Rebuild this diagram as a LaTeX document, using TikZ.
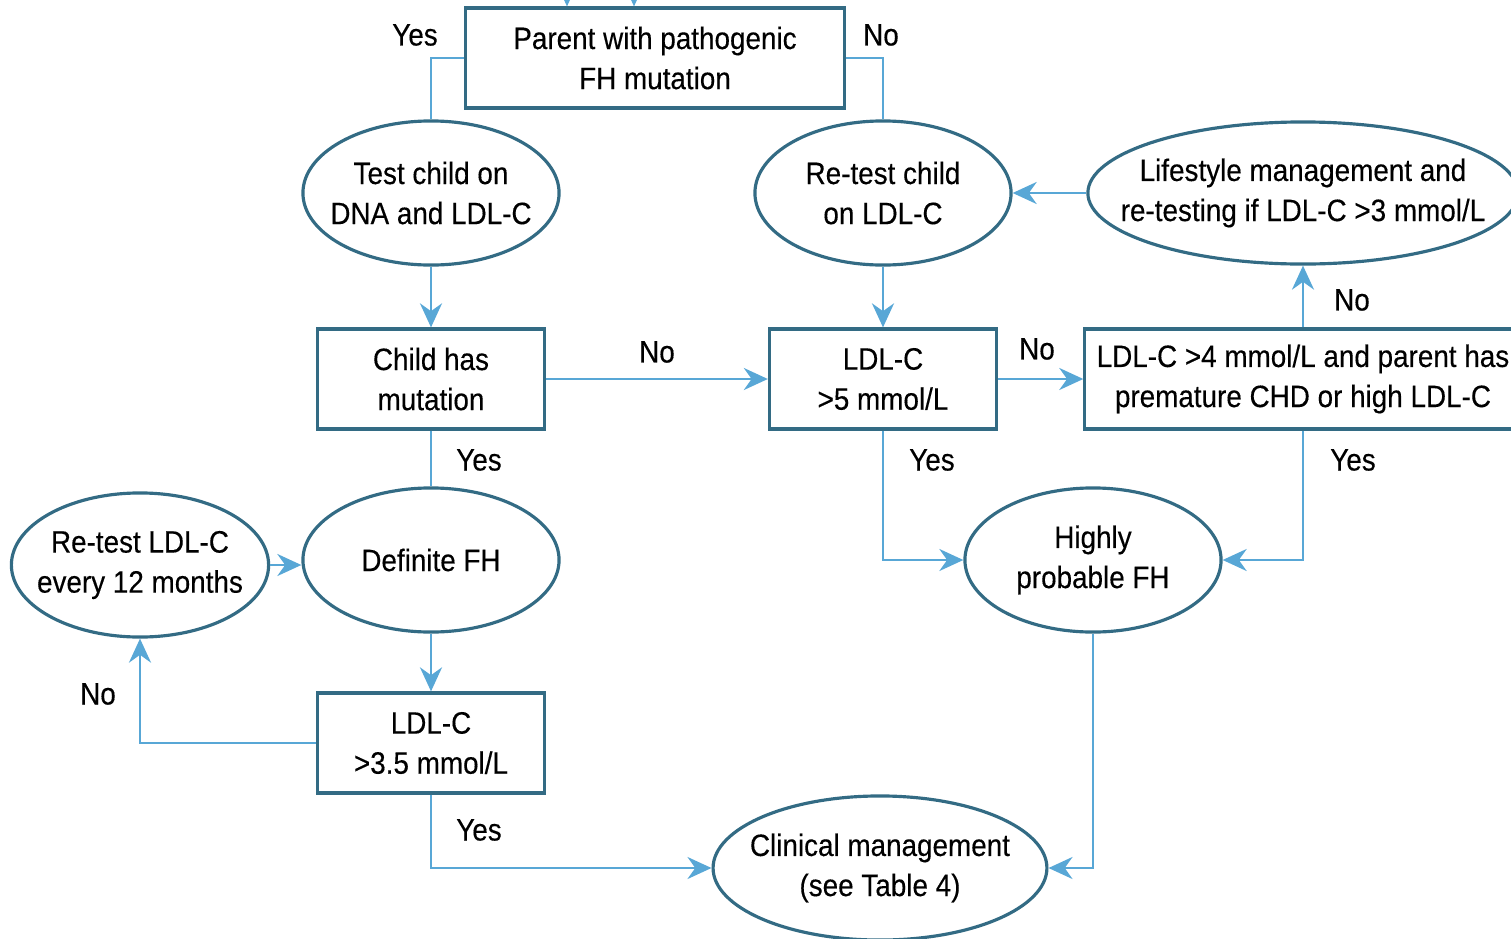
\documentclass[tikz,border=0pt]{standalone}
\usepackage{fontspec}
\setmainfont[FakeStretch=0.9,FakeBold=0.3]{Liberation Sans}
\usetikzlibrary{shapes.geometric,arrows.meta}
\definecolor{shapeline}{HTML}{336B84}
\definecolor{flowline}{HTML}{58A7D6}
\newcommand{\flowfont}{\fontsize{8.8}{11.4}\selectfont}
\begin{document}
\begin{tikzpicture}[x=0.01cm,y=-0.01cm,
  box/.style={rectangle,draw=shapeline,line width=0.9pt,minimum width=2.27cm,minimum height=1cm,inner sep=1pt,align=center,font=\flowfont},
  oval/.style={ellipse,draw=shapeline,line width=0.9pt,minimum width=2.56cm,minimum height=1.44cm,inner xsep=-0.12cm,inner ysep=0pt,align=center,font=\flowfont},
  link/.style={draw=flowline,line width=0.75pt},
  arr/.style={link,-{Stealth[length=2.4mm,width=2.2mm]}},
  lbl/.style={font=\flowfont}]
\useasboundingbox (0,0) rectangle (1511,939);
\node[box,minimum width=3.78cm] (parent) at (655,58) {Parent with pathogenic\\FH mutation};
\node[oval] (testdna) at (431,193) {Test child on\\DNA and LDL-C};
\node[oval] (retest) at (883,193) {Re-test child\\on LDL-C};
\node[oval,minimum width=4.3cm,minimum height=1.42cm,inner xsep=-0.32cm] (life) at (1303,193) {Lifestyle management and\\re-testing if LDL-C >3 mmol/L};
\node[box] (mut) at (431,379) {Child has\\mutation};
\node[box] (ldlfive) at (883,379) {LDL-C\\>5 mmol/L};
\node[box,minimum width=4.36cm] (ldlfour) at (1303,379) {LDL-C >4 mmol/L and parent has\\premature CHD or high LDL-C};
\node[oval] (retestyr) at (140,565) {Re-test LDL-C\\every 12 months};
\node[oval] (definite) at (431,560) {Definite FH};
\node[oval] (probable) at (1093,560) {Highly\\probable FH};
\node[box] (ldlthree) at (431,743) {LDL-C\\>3.5 mmol/L};
\node[oval,minimum width=3.33cm] (clinical) at (880,868) {Clinical management\\(see Table 4)};

\coordinate (ina) at (567,-20);
\coordinate (inb) at (634,-20);
\draw[arr] (ina) -- (ina |- parent.north);
\draw[arr] (inb) -- (inb |- parent.north);
\draw[link] (parent.west) -| (testdna.north);
\draw[link] (parent.east) -| (retest.north);
\draw[arr] (testdna) -- (mut);
\draw[arr] (retest) -- (ldlfive);
\draw[arr] (mut) -- (ldlfive);
\draw[arr] (ldlfive) -- (ldlfour);
\draw[arr] (ldlfour) -- (life);
\draw[arr] (life) -- (retest);
\draw[link] (mut) -- (definite);
\draw[arr] (ldlfive.south) |- (probable.west);
\draw[arr] (ldlfour.south) |- (probable.east);
\draw[arr] (retestyr.east) -- (definite.west |- retestyr.east);
\draw[arr] (definite) -- (ldlthree);
\draw[arr] (ldlthree.west) -| (retestyr.south);
\draw[arr] (ldlthree.south) |- (clinical.west);
\draw[arr] (probable.south) |- (clinical.east);

\node[lbl] (yesparent) at (415,35) {Yes};
\node[lbl] (noparent) at (881,35) {No};
\node[lbl] (nomut) at (657,352) {No};
\node[lbl] (nofive) at (1037,349) {No};
\node[lbl] (nofour) at (1352,300) {No};
\node[lbl] (yesmut) at (479,460) {Yes};
\node[lbl] (yesfive) at (932,460) {Yes};
\node[lbl] (yesfour) at (1353,460) {Yes};
\node[lbl] (nothree) at (98,694) {No};
\node[lbl] (yesthree) at (479,830) {Yes};
\end{tikzpicture}
\end{document}
